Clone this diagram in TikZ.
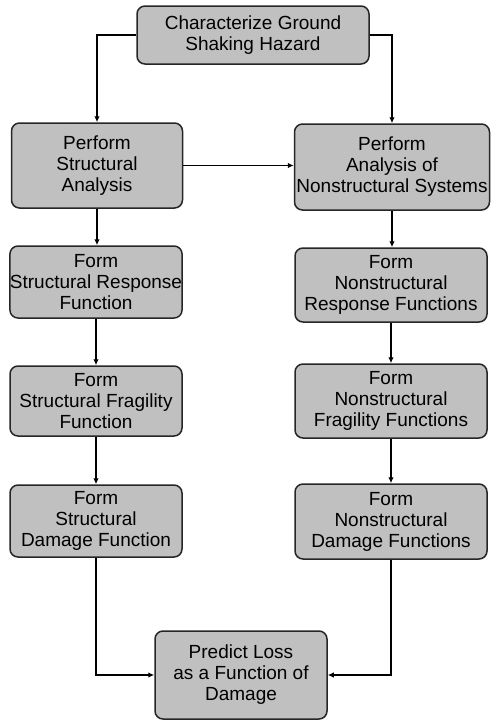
\documentclass[tikz,border=0pt]{standalone}
\usepackage{fontspec}
\setmainfont{Liberation Sans}
\usetikzlibrary{arrows.meta}
\definecolor{boxfill}{RGB}{192,192,192}
\tikzset{
  stepbox/.style={draw=black!85, line width=1.5pt, rounded corners=8pt, fill=boxfill,
    align=center, inner sep=0pt, font=\fontsize{19}{21}\selectfont},
  arr/.style={draw=black, line width=1.8pt, -{Latex[length=6pt,width=5.5pt]}}
}
\begin{document}
\begin{tikzpicture}[x=1pt,y=-1pt]
\useasboundingbox (0,0) rectangle (492,721);
\node[stepbox, minimum width=232pt, minimum height=58pt] (top) at (253,35) {Characterize Ground\\Shaking Hazard};
\node[stepbox, minimum width=171pt, minimum height=85pt] (l1) at (97,165.5) {Perform\\Structural\\Analysis};
\node[stepbox, minimum width=195pt, minimum height=86pt] (r1) at (392,167) {Perform\\Analysis of\\Nonstructural Systems};
\node[stepbox, minimum width=172pt, minimum height=72pt] (l2) at (96,282) {Form\\Structural Response\\Function};
\node[stepbox, minimum width=192pt, minimum height=74pt] (r2) at (391,285) {Form\\Nonstructural\\Response Functions};
\node[stepbox, minimum width=172pt, minimum height=70pt] (l3) at (96,401) {Form\\Structural Fragility\\Function};
\node[stepbox, minimum width=192pt, minimum height=74pt] (r3) at (391,401) {Form\\Nonstructural\\Fragility Functions};
\node[stepbox, minimum width=172pt, minimum height=72pt] (l4) at (96,521) {Form\\Structural\\Damage Function};
\node[stepbox, minimum width=192pt, minimum height=75pt] (r4) at (391,521.5) {Form\\Nonstructural\\Damage Functions};
\node[stepbox, minimum width=172pt, minimum height=88pt] (bot) at (241,675) {Predict Loss\\as a Function of\\Damage};
\draw[arr] (top.west) -| (l1.north);
\draw[arr] (top.east) -| (r1.north);
\draw[arr] (l1.east) -- (r1.west |- l1.east);
\draw[arr] (l1.south) -- (l1.south |- l2.north);
\draw[arr] (r1.south) -- (r1.south |- r2.north);
\draw[arr] (l2.south) -- (l2.south |- l3.north);
\draw[arr] (r2.south) -- (r2.south |- r3.north);
\draw[arr] (l3.south) -- (l3.south |- l4.north);
\draw[arr] (r3.south) -- (r3.south |- r4.north);
\draw[arr] (l4.south) |- (bot.west);
\draw[arr] (r4.south) |- (bot.east);
\end{tikzpicture}
\end{document}
